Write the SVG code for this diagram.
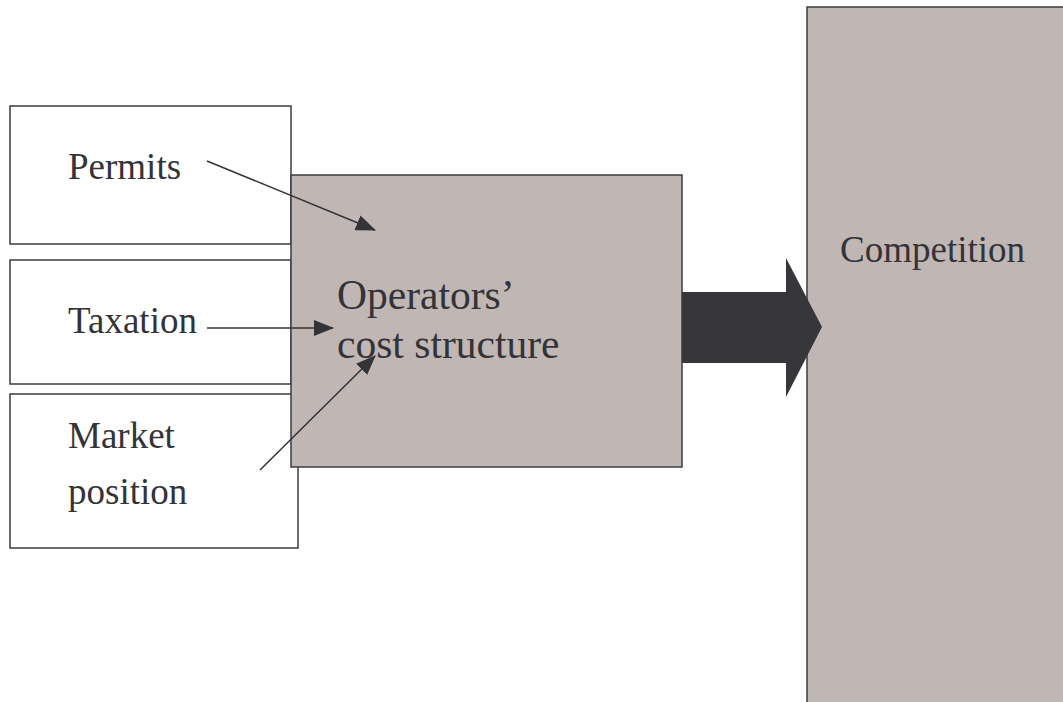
<svg xmlns="http://www.w3.org/2000/svg" width="1063" height="702" viewBox="0 0 1063 702">
  <style>
    .box { fill: #ffffff; stroke: #3c3c40; stroke-width: 1.5; }
    .shaded { fill: #c0b6b4; stroke: #3c3c40; stroke-width: 1.5; }
    .lbl { font-family: "Liberation Serif", "Times New Roman", serif; fill: #333338; }
    .conn { stroke: #333338; stroke-width: 1.5; fill: none; marker-end: url(#ah); }
  </style>
  <defs>
    <marker id="ah" markerUnits="userSpaceOnUse" markerWidth="20" markerHeight="16" refX="19" refY="8" orient="auto">
      <path d="M0,0 L20,8 L0,16 z" fill="#333338"/>
    </marker>
  </defs>
  <rect width="1063" height="702" fill="#ffffff"/>
  <g id="permits">
    <rect class="box" x="10" y="106" width="281" height="138"/>
    <text class="lbl" x="68" y="179" font-size="37">Permits</text>
  </g>
  <g id="taxation">
    <rect class="box" x="10" y="260" width="281" height="124"/>
    <text class="lbl" x="68" y="333" font-size="37">Taxation</text>
  </g>
  <g id="market-position">
    <rect class="box" x="10" y="394" width="288" height="154"/>
    <text class="lbl" x="68" y="448" font-size="37">Market</text>
    <text class="lbl" x="68" y="504" font-size="37">position</text>
  </g>
  <g id="cost-structure">
    <rect class="shaded" x="291" y="175" width="391" height="292"/>
    <text class="lbl" x="337" y="309" font-size="41.5">Operators’</text>
    <text class="lbl" x="337" y="358" font-size="41.5">cost structure</text>
  </g>
  <g id="competition">
    <rect class="shaded" x="807" y="7" width="270" height="710"/>
    <text class="lbl" x="840" y="262" font-size="37">Competition</text>
  </g>
  <g id="connectors">
    <polygon points="682,292 786,292 786,258 822,327 786,397 786,363 682,363" fill="#37363b"/>
    <line class="conn" x1="207" y1="161" x2="375" y2="230"/>
    <line class="conn" x1="207" y1="328" x2="333" y2="328"/>
    <line class="conn" x1="260" y1="470" x2="375" y2="356"/>
  </g>
</svg>
